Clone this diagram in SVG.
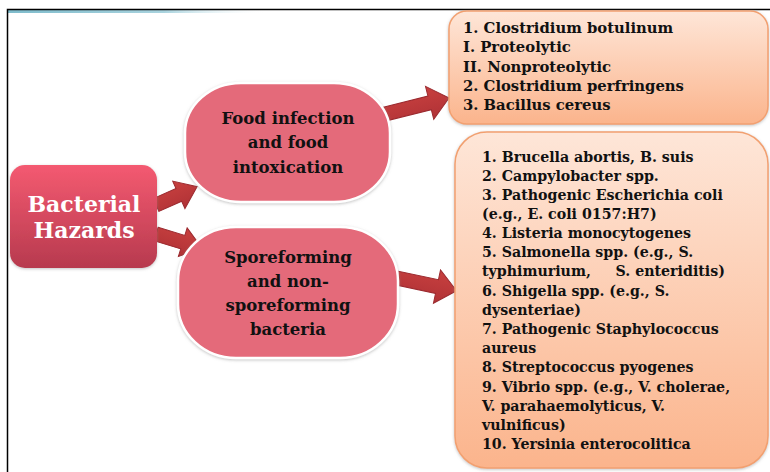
<svg xmlns="http://www.w3.org/2000/svg" width="770" height="472" viewBox="0 0 770 472">
<defs>
<linearGradient id="gHaz" x1="0" y1="0" x2="0" y2="1"><stop offset="0" stop-color="#f45a71"/><stop offset="1" stop-color="#b73a4e"/></linearGradient>
<linearGradient id="gBox" x1="0" y1="0" x2="0" y2="1"><stop offset="0" stop-color="#fee6d8"/><stop offset="1" stop-color="#fbb48c"/></linearGradient>
<linearGradient id="gArr" x1="0" y1="0" x2="0" y2="1"><stop offset="0" stop-color="#c8403f"/><stop offset="1" stop-color="#b03236"/></linearGradient>
<linearGradient id="gTeal" x1="0" y1="0" x2="1" y2="0"><stop offset="0" stop-color="#7fbccc"/><stop offset="0.6" stop-color="#a9d3de"/><stop offset="1" stop-color="#ffffff" stop-opacity="0"/></linearGradient>
<filter id="sh" x="-10%" y="-10%" width="120%" height="120%"><feDropShadow dx="0" dy="1" stdDeviation="1.5" flood-color="#888" flood-opacity="0.5"/></filter>
</defs>
<style>
.node{fill:#e46a7a;stroke:#ffffff;stroke-width:2.5}
.box{fill:url(#gBox);stroke:#f2a070;stroke-width:1.5}
.arr{fill:url(#gArr);stroke:#9b2a2f;stroke-width:1}
.t{font-family:"DejaVu Serif","Liberation Serif",serif;font-weight:bold;fill:#111}
.nt{font-size:16.5px;text-anchor:middle}
.lt{font-size:14.2px;white-space:pre}
.tt{font-size:14.8px;white-space:pre}
.ht{font-size:22px;text-anchor:middle;fill:#ffffff}
</style>
<rect x="0" y="0" width="770" height="472" fill="#ffffff"/>
<g id="frame">
<rect x="8" y="10" width="260" height="3" fill="url(#gTeal)"/>
<path d="M7.5 472 V9.5 H770" fill="none" stroke="#000" stroke-width="1.5"/>
</g>
<g id="connectors">
<polygon class="arr" transform="translate(156,205) rotate(-24)" points="0,-7 25,-7 25,-15 45,0 25,15 25,7 0,7"/>
<polygon class="arr" transform="translate(156,234) rotate(17)" points="0,-7 28,-7 28,-15 48,0 28,15 28,7 0,7"/>
<polygon class="arr" transform="translate(385,114) rotate(-14)" points="0,-7 46,-7 46,-17 66,0 46,17 46,7 0,7"/>
<polygon class="arr" transform="translate(392,277) rotate(12)" points="0,-7 46,-7 46,-17 66,0 46,17 46,7 0,7"/>
</g>
<g id="hazards">
<rect x="10" y="165" width="147" height="103" rx="15" fill="url(#gHaz)" filter="url(#sh)"/>
<text class="t ht" x="84" y="212">Bacterial</text>
<text class="t ht" x="84" y="238">Hazards</text>
</g>
<g id="food">
<rect class="node" x="185" y="83" width="205" height="119" rx="56" ry="50" filter="url(#sh)"/>
<text class="t nt" x="288" y="124">Food infection</text>
<text class="t nt" x="288" y="148">and food</text>
<text class="t nt" x="288" y="173">intoxication</text>
</g>
<g id="spore">
<rect class="node" x="178" y="227" width="220" height="131" rx="58" ry="54" filter="url(#sh)"/>
<text class="t nt" x="288" y="263">Sporeforming</text>
<text class="t nt" x="288" y="287">and non-</text>
<text class="t nt" x="288" y="311">sporeforming</text>
<text class="t nt" x="288" y="335">bacteria</text>
</g>
<g id="toxins">
<rect class="box" x="449" y="11" width="319" height="113" rx="18" filter="url(#sh)"/>
<text class="t tt" x="463" y="33">1. Clostridium botulinum</text>
<text class="t tt" x="463" y="52">I. Proteolytic</text>
<text class="t tt" x="463" y="72">II. Nonproteolytic</text>
<text class="t tt" x="463" y="91">2. Clostridium perfringens</text>
<text class="t tt" x="463" y="110">3. Bacillus cereus</text>
</g>
<g id="pathogens">
<rect class="box" x="455" y="132" width="313" height="336" rx="32" filter="url(#sh)"/>
<text class="t lt" x="482" y="162">1. Brucella abortis, B. suis</text>
<text class="t lt" x="482" y="181">2. Campylobacter spp.</text>
<text class="t lt" x="482" y="200">3. Pathogenic Escherichia coli</text>
<text class="t lt" x="482" y="219">(e.g., E. coli 0157:H7)</text>
<text class="t lt" x="482" y="238">4. Listeria monocytogenes</text>
<text class="t lt" x="482" y="257">5. Salmonella spp. (e.g., S.</text>
<text class="t lt" x="482" y="276">typhimurium,     S. enteriditis)</text>
<text class="t lt" x="482" y="296">6. Shigella spp. (e.g., S.</text>
<text class="t lt" x="482" y="315">dysenteriae)</text>
<text class="t lt" x="482" y="334">7. Pathogenic Staphylococcus</text>
<text class="t lt" x="482" y="353">aureus</text>
<text class="t lt" x="482" y="372">8. Streptococcus pyogenes</text>
<text class="t lt" x="482" y="392">9. Vibrio spp. (e.g., V. cholerae,</text>
<text class="t lt" x="482" y="411">V. parahaemolyticus, V.</text>
<text class="t lt" x="482" y="430">vulnificus)</text>
<text class="t lt" x="482" y="449">10. Yersinia enterocolitica</text>
</g>
</svg>
